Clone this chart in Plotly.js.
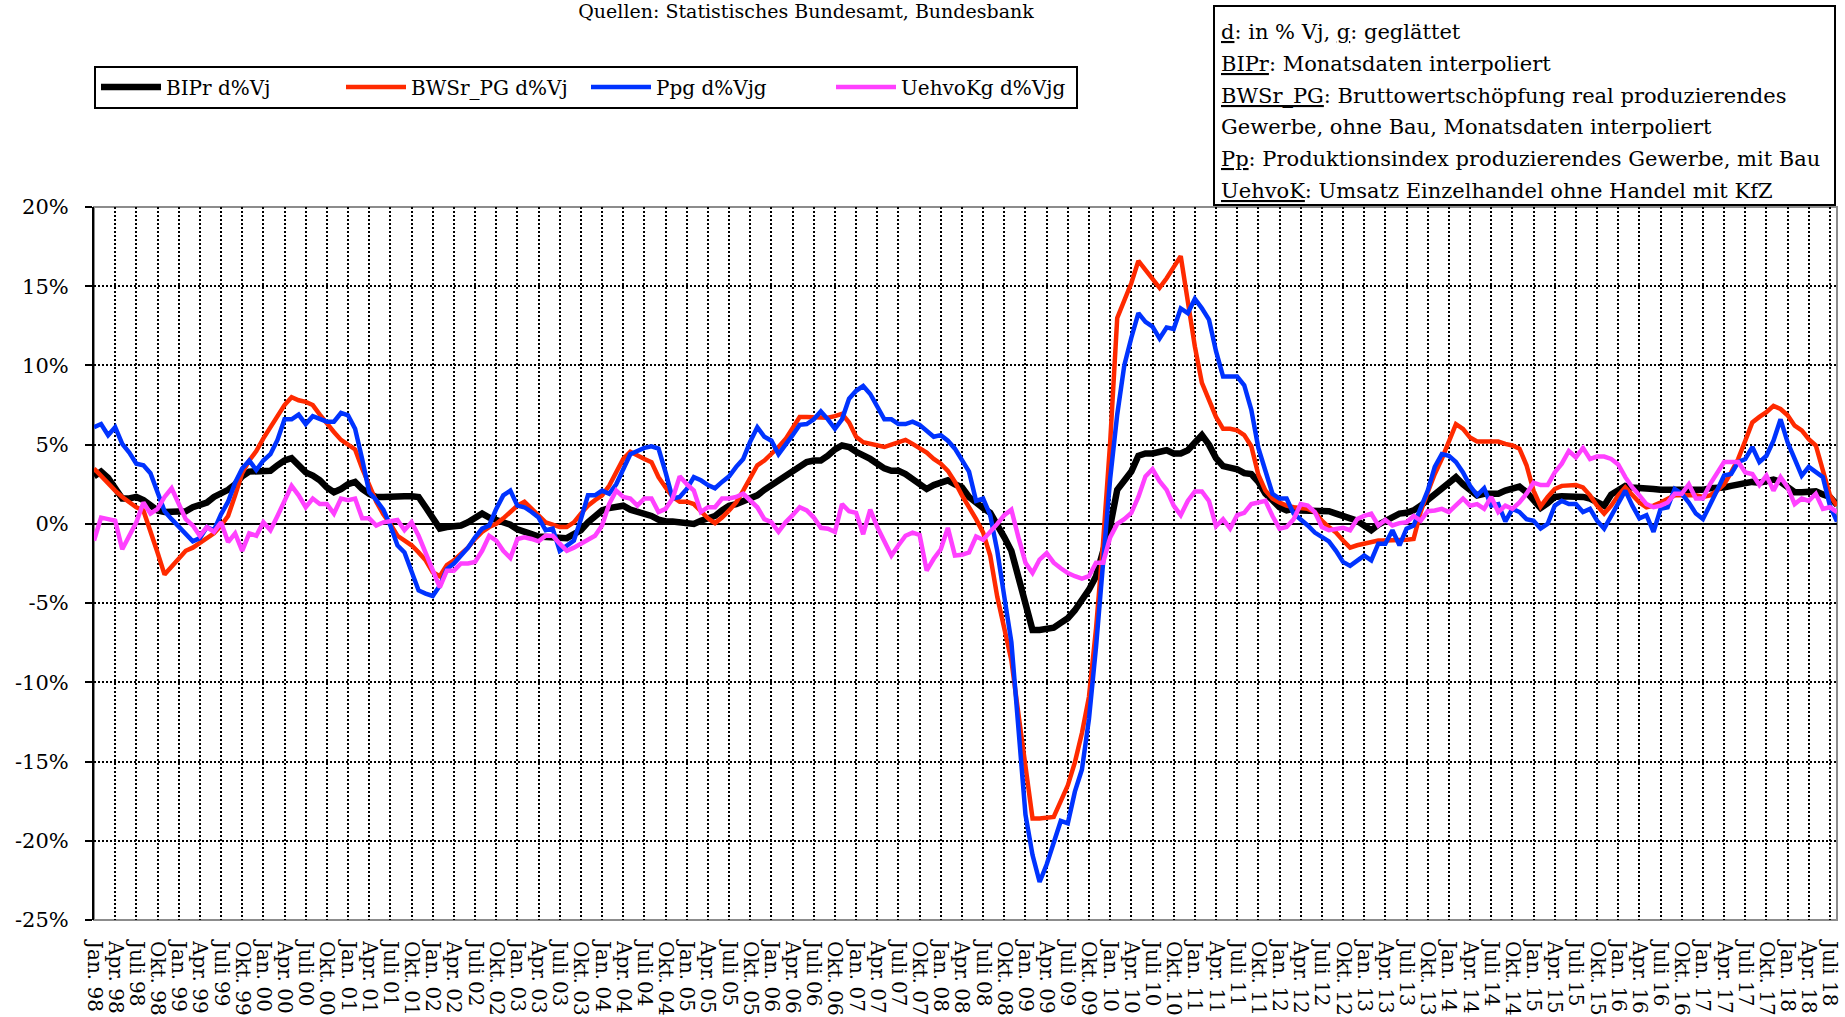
<!DOCTYPE html>
<html><head><meta charset="utf-8">
<script src="https://cdn.plot.ly/plotly-3.0.1.min.js"></script>
<style>html,body{margin:0;padding:0;background:#fff}</style>
</head><body>
<div id="chart" style="width:1845px;height:1017px"></div>
<script>
// ---- categories (monthly, Jan. 98 .. Aug. 18) ----
const monthNames = ['Jan.','Feb.','März','Apr.','Mai','Juni','Juli','Aug.','Sep.','Okt.','Nov.','Dez.'];
const startYear = 1998;
const nMonths = 248;
const months = [];
for (let i = 0; i < nMonths; i++) {
  const yr = startYear + Math.floor(i / 12);
  months.push(monthNames[i % 12] + ' ' + String(yr % 100).padStart(2, '0'));
}
const tickLabels = months.filter((m, i) => i % 3 === 0);

// ---- series values (% vs. previous year) ----
const BIPr = [
3.0, 3.3, 2.9, 2.2, 1.6, 1.6, 1.7, 1.5, 1.15, 0.85, 0.75, 0.75,
0.75, 0.8, 1.05, 1.2, 1.35, 1.7, 1.9, 2.15, 2.5, 3.0, 3.3, 3.3,
3.3, 3.35, 3.7, 4.0, 4.15, 3.7, 3.25, 3.05, 2.75, 2.3, 2.0, 2.2,
2.5, 2.65, 2.2, 1.9, 1.7, 1.7, 1.75, 1.75, 1.75, 1.75, 1.7, 1.05,
0.3, -0.3, -0.2, -0.2, -0.1, 0.1, 0.35, 0.65, 0.4, 0.27, 0.15, -0.05,
-0.35, -0.55, -0.65, -0.8, -0.85, -0.8, -0.9, -0.9, -0.65, -0.4, 0.1, 0.5,
0.85, 1.0, 1.05, 1.15, 0.9, 0.8, 0.65, 0.5, 0.27, 0.15, 0.15, 0.1,
0.05, 0.0, 0.2, 0.35, 0.5, 0.85, 1.15, 1.25, 1.4, 1.6, 1.8, 2.15,
2.45, 2.75, 3.05, 3.3, 3.7, 3.9, 4.0, 4.0, 4.3, 4.7, 4.95, 4.85,
4.55, 4.35, 4.1, 3.8, 3.5, 3.35, 3.35, 3.15, 2.85, 2.45, 2.2, 2.45,
2.6, 2.75, 2.5, 2.3, 1.7, 1.3, 1.0, 0.7, 0.0, -0.85, -1.7, -3.45,
-5.0, -6.7, -6.7, -6.65, -6.55, -6.25, -5.95, -5.45, -4.85, -4.15, -3.3, -1.7,
-0.15, 2.15, 2.7, 3.3, 4.3, 4.45, 4.45, 4.6, 4.65, 4.45, 4.45, 4.65,
5.15, 5.6, 5.0, 4.15, 3.65, 3.6, 3.45, 3.2, 3.15, 2.65, 1.9, 1.5,
1.05, 0.85, 0.95, 0.85, 0.85, 0.85, 0.75, 0.8, 0.65, 0.5, 0.35, 0.2,
-0.1, -0.4, -0.05, 0.2, 0.5, 0.65, 0.7, 0.85, 1.15, 1.5, 1.9, 2.3,
2.65, 2.95, 2.5, 2.1, 1.8, 1.9, 1.9, 1.9, 2.1, 2.2, 2.35, 2.0,
1.5, 1.0, 1.3, 1.7, 1.75, 1.75, 1.75, 1.7, 1.6, 1.4, 1.15, 1.85,
2.1, 2.4, 2.3, 2.3, 2.3, 2.2, 2.15, 2.15, 2.1, 2.1, 2.05, 2.1,
2.15, 2.25, 2.25, 2.3, 2.4, 2.5, 2.65, 2.65, 2.6, 2.65, 2.8, 2.65,
2.3, 2.0, 2.0, 2.0, 2.05, 1.85, 1.7, 1.2
];
const BWSr_PG = [
3.5, 3.0, 2.6, 2.1, 1.7, 1.35, 1.05, 0.85, -0.4, -1.8, -3.2, -2.7,
-2.1, -1.7, -1.5, -1.2, -0.9, -0.6, -0.1, 0.5, 1.8, 3.2, 4.0, 4.6,
5.4, 6.1, 6.9, 7.5, 8.0, 7.8, 7.7, 7.5, 6.9, 6.3, 5.8, 5.3,
5.0, 4.7, 3.5, 2.4, 1.4, 0.6, 0.0, -0.75, -1.05, -1.35, -1.8, -2.3,
-3.05, -3.3, -2.6, -2.3, -1.9, -1.5, -0.95, -0.5, -0.2, 0.0, 0.35, 0.75,
1.15, 1.4, 0.95, 0.5, 0.1, -0.05, -0.2, -0.2, 0.1, 0.65, 1.15, 1.5,
1.8, 2.4, 3.25, 4.1, 4.55, 4.3, 4.1, 3.9, 2.95, 2.3, 1.7, 1.4,
1.4, 1.25, 0.75, 0.35, 0.05, 0.4, 0.85, 1.35, 2.1, 2.95, 3.7, 4.0,
4.4, 4.85, 5.35, 6.0, 6.75, 6.75, 6.75, 6.7, 6.7, 6.8, 6.95, 6.4,
5.5, 5.15, 5.05, 5.0, 4.85, 5.0, 5.15, 5.3, 5.05, 4.8, 4.5, 4.1,
3.8, 3.35, 2.65, 1.8, 1.1, 0.3, -0.55, -2.0, -4.6, -6.6, -8.6, -12.0,
-15.3, -18.6, -18.6, -18.55, -18.5, -17.5, -16.5, -15.05, -13.2, -10.9, -6.6, -1.15,
5.15, 13.0, 14.05, 15.2, 16.6, 16.05, 15.5, 14.9, 15.5, 16.2, 16.9, 14.05,
11.2, 8.9, 7.9, 6.75, 6.0, 6.0, 5.9, 5.6, 4.9, 3.1, 2.1, 1.6,
1.35, 1.15, 1.05, 1.0, 0.95, 0.75, 0.2, -0.2, -0.55, -1.05, -1.5, -1.35,
-1.25, -1.1, -1.05, -1.05, -1.05, -1.05, -1.0, -0.95, 0.75, 2.0, 3.15, 4.1,
5.25, 6.3, 6.0, 5.45, 5.2, 5.2, 5.2, 5.2, 5.05, 4.95, 4.75, 3.7,
2.1, 1.1, 1.7, 2.2, 2.4, 2.45, 2.45, 2.3, 1.8, 1.15, 0.65, 1.15,
1.8, 2.3, 1.8, 1.35, 1.05, 1.15, 1.35, 1.6, 1.8, 1.8, 1.8, 1.8,
1.7, 1.8, 2.1, 2.5, 3.25, 4.1, 5.25, 6.4, 6.75, 7.05, 7.45, 7.25,
6.85, 6.2, 5.9, 5.35, 4.95, 3.45, 1.8, 1.15
];
const Ppg = [
6.1, 6.3, 5.6, 6.1, 5.05, 4.5, 3.8, 3.7, 3.2, 1.9, 0.8, 0.3,
-0.2, -0.7, -1.1, -0.9, -0.2, -0.4, 0.6, 1.4, 2.6, 3.5, 4.0, 3.4,
4.0, 4.4, 5.3, 6.6, 6.6, 6.9, 6.3, 6.8, 6.6, 6.45, 6.45, 7.0,
6.85, 6.0, 4.1, 2.0, 1.5, 0.9, -0.1, -1.35, -1.8, -2.95, -4.2, -4.4,
-4.55, -3.9, -2.85, -2.5, -2.0, -1.5, -0.85, -0.3, -0.1, 0.95, 1.8, 2.1,
1.15, 1.05, 0.75, 0.4, -0.4, -0.3, -1.7, -1.35, -1.05, 0.3, 1.8, 1.8,
2.1, 1.9, 2.5, 3.45, 4.4, 4.6, 4.8, 4.9, 4.75, 3.25, 1.6, 1.7,
2.2, 2.95, 2.75, 2.45, 2.25, 2.65, 3.0, 3.6, 4.1, 5.2, 6.1, 5.5,
5.25, 4.4, 4.95, 5.6, 6.25, 6.3, 6.6, 7.1, 6.6, 6.0, 6.6, 7.9,
8.4, 8.7, 8.2, 7.35, 6.6, 6.6, 6.3, 6.3, 6.45, 6.25, 5.85, 5.5,
5.6, 5.25, 4.75, 4.0, 3.3, 1.45, 1.6, 0.55, -1.7, -4.6, -7.45, -12.9,
-18.35, -20.9, -22.6, -21.5, -20.05, -18.75, -18.9, -16.9, -15.5, -12.3, -7.75, -2.3,
2.85, 6.9, 10.0, 11.75, 13.3, 12.75, 12.45, 11.7, 12.4, 12.3, 13.6, 13.3,
14.2, 13.6, 12.9, 10.9, 9.3, 9.3, 9.3, 8.75, 7.2, 4.8, 3.25, 1.9,
1.6, 1.6, 0.65, 0.3, -0.1, -0.55, -0.85, -1.1, -1.7, -2.4, -2.65, -2.3,
-2.0, -2.3, -1.25, -1.25, -0.4, -1.35, -0.3, -0.1, 0.95, 2.1, 3.6, 4.4,
4.3, 3.9, 3.25, 2.4, 1.8, 2.25, 1.15, 1.25, 0.15, 0.95, 0.75, 0.3,
0.2, -0.3, 0.0, 1.15, 1.45, 1.25, 1.25, 0.75, 0.95, 0.2, -0.3, 0.55,
1.35, 2.1, 1.15, 0.35, 0.55, -0.5, 0.95, 1.05, 2.2, 1.9, 1.35, 0.65,
0.3, 1.15, 2.1, 3.05, 3.15, 3.9, 4.1, 4.85, 3.9, 4.3, 5.25, 6.6,
5.15, 4.1, 3.05, 3.6, 3.25, 2.95, 1.15, 0.15
];
const UehvoKg = [
-1.05, 0.4, 0.3, 0.2, -1.6, -0.75, 0.1, 1.35, 0.65, 0.95, 1.7, 2.25,
1.35, 0.3, -0.1, -0.75, -0.2, -0.5, 0.1, -1.15, -0.6, -1.7, -0.6, -0.75,
0.1, -0.4, 0.5, 1.5, 2.4, 1.8, 1.05, 1.6, 1.25, 1.25, 0.65, 1.6,
1.5, 1.6, 0.35, 0.35, -0.1, 0.1, 0.2, 0.25, -0.4, 0.1, -0.75, -1.8,
-2.85, -4.0, -2.95, -2.95, -2.5, -2.5, -2.4, -1.7, -0.75, -1.05, -1.7, -2.15,
-0.95, -0.85, -0.95, -1.1, -0.75, -0.75, -1.25, -1.7, -1.5, -1.25, -1.05, -0.75,
-0.1, 1.25, 2.1, 1.7, 1.6, 1.15, 1.6, 1.6, 0.75, 0.95, 1.6, 3.0,
2.5, 2.1, 0.75, 1.05, 1.05, 1.6, 1.6, 1.7, 1.9, 1.5, 1.05, 0.3,
0.1, -0.5, 0.1, 0.55, 1.05, 0.85, 0.4, -0.25, -0.3, -0.5, 1.25, 0.8,
0.7, -0.65, 0.9, -0.2, -1.05, -2.0, -1.35, -0.75, -0.55, -0.7, -2.95, -2.2,
-1.6, -0.25, -2.0, -1.95, -1.8, -0.8, -1.0, -0.55, 0.0, 0.55, 0.9, -0.85,
-2.45, -3.1, -2.25, -1.85, -2.45, -2.8, -3.1, -3.3, -3.45, -3.3, -2.45, -2.45,
-0.85, 0.0, 0.3, 0.7, 1.7, 3.0, 3.45, 2.7, 2.15, 1.15, 0.55, 1.45,
2.05, 2.05, 1.45, -0.15, 0.3, -0.3, 0.55, 0.7, 1.25, 1.35, 1.45, 0.5,
-0.3, -0.2, 0.3, 1.25, 1.15, 0.75, -0.2, -0.4, -0.3, -0.25, -0.4, 0.3,
0.5, 0.65, -0.1, 0.25, -0.1, 0.05, 0.1, 0.5, 0.2, 0.8, 0.85, 0.95,
0.75, 1.15, 1.6, 1.15, 1.25, 0.95, 1.7, 0.75, 1.15, 0.95, 1.35, 1.9,
2.6, 2.45, 2.45, 3.25, 3.8, 4.6, 4.2, 4.8, 4.1, 4.25, 4.25, 4.1,
3.75, 2.95, 2.3, 1.8, 1.25, 1.05, 1.15, 1.35, 1.9, 1.9, 2.5, 1.6,
1.6, 2.5, 3.25, 3.9, 3.9, 3.9, 3.25, 3.15, 2.45, 3.05, 2.1, 2.95,
2.3, 1.25, 1.6, 1.45, 1.9, 0.95, 1.05, 0.75
];

const seriesNames = ['BIPr d%Vj', 'BWSr_PG d%Vj', 'Ppg d%Vjg', 'UehvoKg d%Vjg'];
const yTickVals = [-25, -20, -15, -10, -5, 0, 5, 10, 15, 20];
const yTickText = yTickVals.map(v => v + '%');

const titleText = 'Quellen: Statistisches Bundesamt, Bundesbank';
const noteLines = [
  '<u>d</u>: in % Vj, <u>g</u>: geglättet',
  '<u>BIPr</u>: Monatsdaten interpoliert',
  '<u>BWSr_PG</u>: Bruttowertschöpfung real produzierendes',
  'Gewerbe, ohne Bau, Monatsdaten interpoliert',
  '<u>Pp</u>: Produktionsindex produzierendes Gewerbe, mit Bau',
  '<u>UehvoK</u>: Umsatz Einzelhandel ohne Handel mit KfZ'
];

// ---- layout helpers (pixel -> paper) ----
const W = 1845, H = 1017;
const M = {l: 94, r: 8, t: 207, b: 97};
const pw = W - M.l - M.r, ph = H - M.t - M.b;
const px = x => (x - M.l) / pw;
const py = y => (H - M.b - y) / ph;

const FONT = 'DejaVu Serif';

const traces = [
  {x: months, y: BIPr, name: seriesNames[0], line: {color: '#000000', width: 6.5}},
  {x: months, y: BWSr_PG, name: seriesNames[1], line: {color: '#ff2a00', width: 4.5}},
  {x: months, y: Ppg, name: seriesNames[2], line: {color: '#0033ff', width: 4.5}},
  {x: months, y: UehvoKg, name: seriesNames[3], line: {color: '#ff40ff', width: 4.5}}
].map(t => Object.assign({type: 'scatter', mode: 'lines', hoverinfo: 'skip'}, t));

const noteY = [32, 64, 96, 127, 159, 191];
const annotations = noteLines.map((txt, i) => ({
  xref: 'paper', yref: 'paper', x: px(1219), y: py(noteY[i]),
  xanchor: 'left', yanchor: 'middle', showarrow: false, align: 'left',
  text: txt, font: {family: FONT, size: 21, color: '#000'}
}));

const layout = {
  width: W, height: H,
  margin: M,
  paper_bgcolor: '#ffffff', plot_bgcolor: '#ffffff',
  font: {family: FONT, size: 20, color: '#000'},
  title: {
    text: titleText, x: 806 / W, xanchor: 'center', xref: 'container',
    y: 1 - 5 / H, yanchor: 'top', yref: 'container', automargin: false,
    font: {family: FONT, size: 19, color: '#000'}
  },
  showlegend: true,
  legend: {
    orientation: 'h', x: 0, xanchor: 'left', y: py(87), yanchor: 'middle',
    bgcolor: '#ffffff', bordercolor: '#000', borderwidth: 2,
    font: {family: FONT, size: 20, color: '#000'},
    itemwidth: 60, entrywidth: 170, entrywidthmode: 'pixels', traceorder: 'normal'
  },
  xaxis: {
    type: 'category', categoryorder: 'array', categoryarray: months,
    range: [0, nMonths - 1], tickmode: 'array', tickvals: tickLabels, ticktext: tickLabels,
    tickangle: 90, ticks: '', ticklabelstandoff: 20,
    tickfont: {family: FONT, size: 20, color: '#000'},
    showgrid: true, gridcolor: '#000', gridwidth: 2, griddash: '2px,2px',
    showline: false, zeroline: false, automargin: false, fixedrange: true
  },
  yaxis: {
    range: [-25, 20], tickmode: 'array', tickvals: yTickVals, ticktext: yTickText,
    tickfont: {family: FONT, size: 21, color: '#000'},
    showgrid: true, gridcolor: '#000', gridwidth: 2, griddash: '2px,2px',
    zeroline: true, zerolinecolor: '#000', zerolinewidth: 2,
    showline: true, linecolor: '#000', linewidth: 2,
    ticks: 'outside', ticklen: 7, tickwidth: 2, tickcolor: '#000', ticklabelstandoff: 12,
    automargin: false, fixedrange: true
  },
  shapes: [
    {type: 'rect', xref: 'paper', yref: 'paper', x0: 0, x1: 1, y0: 0, y1: 1,
     line: {color: '#8c8c8c', width: 2}, layer: 'below'},
    {type: 'rect', xref: 'paper', yref: 'paper', x0: px(1214), x1: px(1835), y0: py(205), y1: py(6),
     line: {color: '#000', width: 2}, fillcolor: '#ffffff', layer: 'above'}
  ],
  annotations: annotations
};

Plotly.newPlot('chart', traces, layout, {displayModeBar: false, staticPlot: true});
</script>
</body></html>
